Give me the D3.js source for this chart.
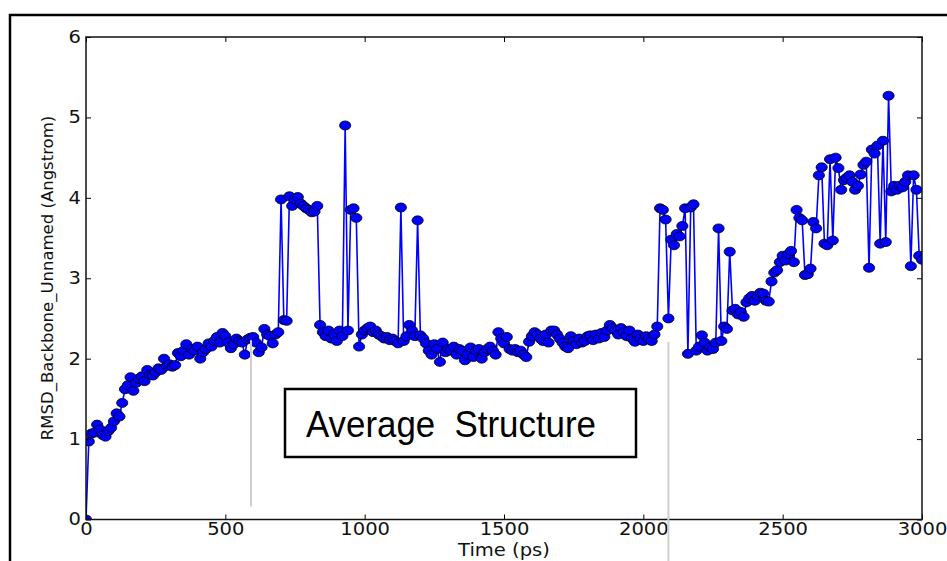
<!DOCTYPE html>
<meta charset="utf-8">
<style>
body { margin: 0; background: #fff; }
svg { display: block; background: #fff; }
.axis path { display: none; }
.axis line { stroke: #000; stroke-width: 1; }
.axis text { font-family: "DejaVu Sans", sans-serif; font-size: 17px; fill: #111; }
.line { fill: none; stroke: #0000ff; stroke-width: 1.6px; }
.dot { fill: #0000ff; stroke: #000; stroke-width: 0.8px; }
</style>
<svg width="947" height="561"></svg>
<script src="https://cdn.jsdelivr.net/npm/d3@7"></script>
<script>

// sampling interval of the trajectory, ps
var timeStep = 10;

// RMSD (Angstrom), one row per 100 ps
var rmsd = [
  0.00, 0.97, 1.07, 1.08, 1.18, 1.12, 1.05, 1.03, 1.10, 1.14,
  1.22, 1.32, 1.28, 1.45, 1.62, 1.67, 1.77, 1.60, 1.70, 1.75,
  1.78, 1.72, 1.86, 1.80, 1.79, 1.83, 1.88, 1.86, 2.00, 1.91,
  1.93, 1.90, 1.92, 2.07, 2.03, 2.10, 2.18, 2.05, 2.12, 2.10,
  2.15, 2.00, 2.08, 2.12, 2.19, 2.15, 2.22, 2.27, 2.20, 2.32,
  2.28, 2.20, 2.13, 2.18, 2.25, 2.22, 2.20, 2.05, 2.24, 2.26,
  2.27, 2.20, 2.08, 2.14, 2.37, 2.30, 2.28, 2.19, 2.30, 2.33,
  3.98, 2.48, 2.47, 4.02, 3.90, 3.98, 4.01, 3.93, 3.90, 3.87,
  3.85, 3.82, 3.83, 3.90, 2.42, 2.33, 2.28, 2.35, 2.25, 2.30,
  2.22, 2.35, 2.28, 4.90, 2.35, 3.85, 3.87, 3.75, 2.15, 2.30,
  2.35, 2.38, 2.40, 2.33, 2.35, 2.30, 2.28, 2.25, 2.27, 2.23,
  2.25, 2.22, 2.19, 3.88, 2.22, 2.28, 2.42, 2.35, 2.28, 3.72,
  2.29, 2.25, 2.19, 2.10, 2.05, 2.18, 2.12, 1.96, 2.20, 2.08,
  2.12, 2.10, 2.15, 2.05, 2.12, 2.10, 1.98, 2.05, 2.14, 2.02,
  2.10, 2.12, 2.00, 2.08, 2.12, 2.15, 2.10, 2.05, 2.33, 2.25,
  2.19, 2.27, 2.12, 2.10, 2.12, 2.08, 2.10, 2.05, 2.02, 2.21,
  2.28, 2.33, 2.30, 2.25, 2.22, 2.30, 2.20, 2.35, 2.35, 2.30,
  2.25, 2.20, 2.15, 2.13, 2.28, 2.22, 2.18, 2.25, 2.20, 2.22,
  2.28, 2.29, 2.23, 2.30, 2.25, 2.32, 2.27, 2.35, 2.42, 2.38,
  2.35, 2.30, 2.38, 2.33, 2.28, 2.35, 2.25, 2.21, 2.30, 2.25,
  2.22, 2.28, 2.25, 2.22, 2.30, 2.40, 3.87, 3.85, 3.73, 2.50,
  3.48, 3.41, 3.55, 3.52, 3.65, 3.87, 2.06, 3.88, 3.92, 2.10,
  2.15, 2.29, 2.20, 2.10, 2.14, 2.12, 2.20, 3.62, 2.22, 2.40,
  2.37, 3.33, 2.60, 2.62, 2.55, 2.58, 2.52, 2.70, 2.75, 2.78,
  2.72, 2.78, 2.82, 2.81, 2.72, 2.71, 2.96, 3.07, 3.10, 3.20,
  3.28, 3.22, 3.30, 3.34, 3.20, 3.85, 3.75, 3.72, 3.04, 3.05,
  3.12, 3.70, 3.62, 4.28, 4.38, 3.43, 3.41, 4.48, 3.47, 4.50,
  4.37, 4.10, 4.22, 4.25, 4.28, 4.20, 4.10, 4.15, 4.29, 4.41,
  4.45, 3.13, 4.60, 4.55, 4.65, 3.43, 4.71, 3.45, 5.27, 4.08,
  4.15, 4.10, 4.15, 4.13, 4.20, 4.28, 3.15, 4.28, 4.10, 3.28,
  3.23
];

var xTicks = [0, 500, 1000, 1500, 2000, 2500, 3000];
var yTicks = [0, 1, 2, 3, 4, 5, 6];

// grey marker lines pasted on the figure: [time, from rmsd, to rmsd]
var markerLines = [[592, 0.16, 2.23], [2090, -0.52, 2.21]];
var boxLabel = "Average  Structure";

var svg = d3.select("svg"),
    margin = {top: 37, left: 86},
    width = 836,
    height = 482.5,
    g = svg.append("g").attr("transform", "translate(" + margin.left + "," + margin.top + ")");

// outer frame of the slide picture
svg.append("rect")
    .attr("x", 10).attr("y", 15)
    .attr("width", 1000).attr("height", 700)
    .attr("fill", "none").attr("stroke", "#000").attr("stroke-width", 2.5);

var x = d3.scaleLinear().domain([0, 3000]).range([0, width]),
    y = d3.scaleLinear().domain([0, 6]).range([height, 0]);

var data = rmsd.map(function(v, i) { return {t: i * timeStep, v: v}; });

g.append("clipPath").attr("id", "clip")
  .append("rect").attr("width", width).attr("height", height);

var plot = g.append("g").attr("clip-path", "url(#clip)");

plot.append("path")
    .datum(data)
    .attr("class", "line")
    .attr("d", d3.line().x(function(d) { return x(d.t); }).y(function(d) { return y(d.v); }));

plot.selectAll(".dot")
    .data(data)
  .enter().append("ellipse")
    .attr("class", "dot")
    .attr("cx", function(d) { return x(d.t); })
    .attr("cy", function(d) { return y(d.v); })
    .attr("rx", 5.6)
    .attr("ry", 4.5);

var fmt = d3.format("d");

// ticks point inward, on all four sides
g.append("g").attr("class", "axis")
    .attr("transform", "translate(0," + height + ")")
    .call(d3.axisBottom(x).tickValues(xTicks).tickSize(-5).tickPadding(3).tickFormat(fmt))
  .selectAll("text")
    .attr("transform", "scale(1.15,1)");
g.append("g").attr("class", "axis")
    .call(d3.axisTop(x).tickValues(xTicks).tickSize(-5).tickFormat(""));
g.append("g").attr("class", "axis")
    .call(d3.axisLeft(y).tickValues(yTicks).tickSize(-5).tickPadding(5).tickFormat(fmt))
  .selectAll("text")
    .attr("x", -5 / 1.15)
    .attr("transform", "scale(1.15,1)");
g.append("g").attr("class", "axis")
    .attr("transform", "translate(" + width + ",0)")
    .call(d3.axisRight(y).tickValues(yTicks).tickSize(-5).tickFormat(""));

g.append("rect")
    .attr("width", width).attr("height", height)
    .attr("fill", "none").attr("stroke", "#111").attr("stroke-width", 1.5);

svg.append("text")
    .attr("transform", "translate(" + (margin.left + width / 2) + ",556) scale(1.15,1)")
    .attr("text-anchor", "middle")
    .style("font", "17px 'DejaVu Sans', sans-serif")
    .style("fill", "#111")
    .text("Time (ps)");

svg.append("text")
    .attr("transform", "translate(53,278) rotate(-90)")
    .attr("text-anchor", "middle")
    .style("font", "16.5px 'DejaVu Sans', sans-serif")
    .style("fill", "#111")
    .text("RMSD_Backbone_Unnamed (Angstrom)");

// pasted annotations
g.selectAll(".marker")
    .data(markerLines)
  .enter().append("line")
    .attr("x1", function(d) { return x(d[0]); })
    .attr("x2", function(d) { return x(d[0]); })
    .attr("y1", function(d) { return y(d[1]); })
    .attr("y2", function(d) { return y(d[2]); })
    .attr("stroke", "#cfcfcf")
    .attr("stroke-width", 2);

svg.append("rect")
    .attr("x", 285).attr("y", 389)
    .attr("width", 351).attr("height", 68)
    .attr("fill", "#fff").attr("stroke", "#000").attr("stroke-width", 2.5);

svg.append("text")
    .attr("x", 306).attr("y", 437)
    .attr("textLength", 290)
    .attr("lengthAdjust", "spacingAndGlyphs")
    .style("white-space", "pre")
    .style("font", "36px 'Liberation Sans Narrow', 'Liberation Sans', sans-serif")
    .style("fill", "#000")
    .text(boxLabel);

</script>
